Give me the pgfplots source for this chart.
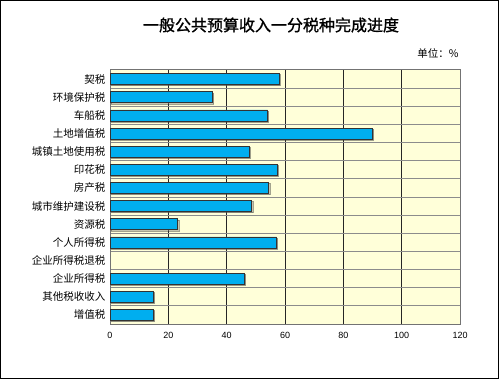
\documentclass[border=0pt]{standalone}
\usepackage{pgfplots}
\pgfplotsset{compat=1.18}
\usepackage{fontspec}
\newfontfamily\cjk{Noto Sans CJK SC}
\newfontfamily\cjktitle[FakeBold=1.2]{Noto Sans CJK SC}
\newfontfamily\numfont{Liberation Sans}
\usetikzlibrary{shadows}
\definecolor{barblue}{RGB}{0,174,239}
\definecolor{bgyellow}{RGB}{255,255,217}
\begin{document}
\begin{tikzpicture}[x=1bp,y=1bp]
\draw[line width=1bp] (0.5,0.5) rectangle (498.5,378.5);
\node[font={\cjktitle\fontsize{16bp}{18bp}\selectfont}] at (271,354) {一般公共预算收入一分税种完成进度};
\node[font={\cjk\fontsize{10.5bp}{12bp}\selectfont}] at (438,326) {单位：\%};
\begin{axis}[
  at={(110bp,55bp)}, anchor=south west,
  scale only axis, width=350bp, height=254bp,
  xbar, bar width=11bp,
  xmin=0, xmax=120, ymin=-0.5, ymax=13.5,
  xtick={0,20,...,120},
  ytick={0,...,13},
  yticklabels={增值税,其他税收收入,企业所得税,企业所得税退税,个人所得税,资源税,城市维护建设税,房产税,印花税,城镇土地使用税,土地增值税,车船税,环境保护税,契税},
  minor ytick={0.5,1.5,...,12.5},
  ymajorgrids=false, xmajorgrids=true, yminorgrids=true,
  major grid style={black!85, line width=0.8bp},
  minor grid style={black!45, line width=0.8bp},
  axis background/.style={fill=bgyellow},
  axis line style={black!55, line width=1bp},
  major tick length=0pt, minor tick length=0pt,
  yticklabel style={font={\cjk\fontsize{10.5bp}{12bp}\selectfont}, xshift=-1bp},
  xticklabel style={font={\numfont\fontsize{9bp}{11bp}\selectfont}, yshift=-5bp},
  /pgf/number format/assume math mode=true,
]
\addplot[fill=barblue, draw=black!80, line width=0.6bp, drop shadow={shadow xshift=1.2bp, shadow yshift=-1.2bp, opacity=0.45}] coordinates {
(14.9,0) (14.9,1) (46.1,2) (57.1,4) (23.2,5) (48.6,6) (54.4,7) (57.3,8) (47.6,9) (90.0,10) (54.0,11) (35.1,12) (57.9,13)
};
\end{axis}
\end{tikzpicture}
\end{document}
